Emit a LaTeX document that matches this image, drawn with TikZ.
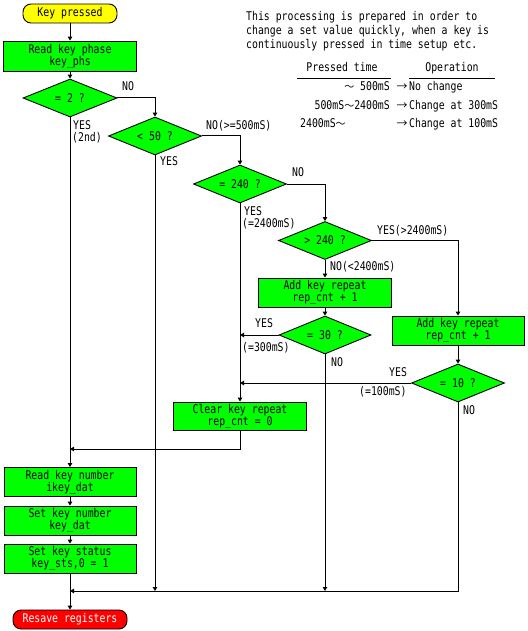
\documentclass[tikz,border=0pt]{standalone}
\usepackage{fontspec}
\setmonofont[FakeStretch=0.82]{DejaVu Sans Mono}
\newfontfamily\cjk{Noto Sans CJK JP}
\newcommand{\wavedash}{{\cjk\fontsize{10}{12}\selectfont ～}}
\newcommand{\rarr}{{\cjk\fontsize{11}{12}\selectfont →}}
\usetikzlibrary{shapes.geometric,arrows.meta}
\definecolor{boxgreen}{RGB}{0,255,0}
\definecolor{keyyellow}{RGB}{255,255,0}
\definecolor{endred}{RGB}{255,0,0}
\begin{document}
\begin{tikzpicture}[x=1pt,y=-1pt,
  font=\ttfamily\fontsize{12}{12}\selectfont,
  proc/.style={draw, fill=boxgreen, line width=0.9pt, minimum width=133pt, minimum height=29pt, inner sep=0pt, align=center},
  dec/.style={draw, fill=boxgreen, diamond, aspect=2.4, line width=0.9pt, minimum width=93pt, minimum height=38pt, inner sep=0pt},
  term/.style={draw, rounded corners=8pt, line width=0.9pt, minimum height=19pt, inner sep=0pt},
  flow/.style={line width=1pt, -{Triangle[length=4pt,width=4.5pt]}},
  conn/.style={line width=1pt},
  lbl/.style={inner sep=0pt, text height=8.5pt, text depth=2.5pt},
  rule/.style={line width=1pt}]
\useasboundingbox (0,0) rectangle (527,631);
% terminals and boxes
\node[term, fill=keyyellow, minimum width=94pt] (kp) at (70,13.5) {Key pressed};
\node[proc, minimum height=30pt] (rkp) at (70,56) {Read key phase\\key\_phs};
\node[dec, minimum width=94pt] (d2) at (70,98) {= 2 ?};
\node[dec] (d50) at (155,136) {< 50 ?};
\node[dec] (d240) at (240,184) {= 240 ?};
\node[dec] (dg240) at (325,240.5) {> 240 ?};
\node[proc] (ak1) at (325,292.5) {Add key repeat\\rep\_cnt + 1};
\node[dec, minimum width=92pt] (d30) at (325,335) {= 30 ?};
\node[proc, minimum width=132pt] (ak2) at (458,330.5) {Add key repeat\\rep\_cnt + 1};
\node[dec] (d10) at (458,383) {= 10 ?};
\node[proc, minimum height=28pt] (clr) at (240,416) {Clear key repeat\\rep\_cnt = 0};
\node[proc, minimum width=132pt] (rkn) at (70,482) {Read key number\\ikey\_dat};
\node[proc, minimum width=132pt] (skn) at (70,520.5) {Set key number\\key\_dat};
\node[proc, minimum width=132pt] (sks) at (70,558.5) {Set key status\\key\_sts,0 = 1};
\node[term, fill=endred, text=white, minimum width=114pt] (res) at (70,619.5) {Resave registers};
% junction coordinates
\coordinate (m1) at (70,449);
\coordinate (m2) at (70,591);
\coordinate (b50) at (155,591);
\coordinate (b30) at (325,591);
\coordinate (j30) at (240,335);
\coordinate (j10) at (240,383);
% connectors
\draw[flow] (kp) -- (rkp);
\draw[flow] (rkp) -- (d2);
\draw[flow] (d2.east) -| (d50.north);
\draw[flow] (d2.south) -- (rkn.north);
\draw[flow] (d50.east) -| (d240.north);
\draw[flow] (d50.south) -- (b50);
\draw[flow] (d240.east) -| (dg240.north);
\draw[flow] (d240.south) -- (clr.north);
\draw[flow] (dg240.east) -| (ak2.north);
\draw[flow] (dg240.south) -- (ak1.north);
\draw[flow] (ak1.south) -- (d30.north);
\draw[flow] (d30.west) -- (j30);
\draw[flow] (d30.south) -- (b30);
\draw[flow] (ak2.south) -- (d10.north);
\draw[flow] (d10.west) -- (j10);
\draw[flow] (d10.south) |- (m2);
\draw[flow] (clr.south) |- (m1);
\draw[flow] (rkn) -- (skn);
\draw[flow] (skn) -- (sks);
\draw[flow] (sks) -- (res);
% branch labels
\node[lbl, anchor=west] (l1) at (122,88) {NO};
\node[lbl, anchor=west] (l2) at (73,127) {YES};
\node[lbl, anchor=west] (l3) at (72,139) {(2nd)};
\node[lbl, anchor=west] (l4) at (160,163) {YES};
\node[lbl, anchor=west] (l5) at (206,127) {NO(>=500mS)};
\node[lbl, anchor=west] (l6) at (292,174) {NO};
\node[lbl, anchor=west] (l7) at (244,212) {YES};
\node[lbl, anchor=west] (l8) at (242,224) {(=2400mS)};
\node[lbl, anchor=west] (l9) at (377,231) {YES(>2400mS)};
\node[lbl, anchor=west] (l10) at (330,267) {NO(<2400mS)};
\node[lbl, anchor=west] (l11) at (255,324) {YES};
\node[lbl, anchor=west] (l12) at (242,348) {(=300mS)};
\node[lbl, anchor=west] (l13) at (331,363) {NO};
\node[lbl, anchor=west] (l14) at (389,373) {YES};
\node[lbl, anchor=west] (l15) at (359,392) {(=100mS)};
\node[lbl, anchor=west] (l16) at (463,411) {NO};
% note
\node[lbl, anchor=west] (n1) at (246,17.5) {This processing is prepared in order to};
\node[lbl, anchor=west] (n2) at (246,32) {change a set value quickly, when a key is};
\node[lbl, anchor=west] (n3) at (246,46) {continuously pressed in time setup etc.};
% table
\node[lbl] (h1) at (342,69) {Pressed time};
\node[lbl] (h2) at (452,69) {Operation};
\coordinate (r1a) at (297,79);
\coordinate (r1b) at (391,79);
\coordinate (r2a) at (409,79);
\coordinate (r2b) at (495,79);
\draw[rule] (r1a) -- (r1b);
\draw[rule] (r2a) -- (r2b);
\node[lbl, anchor=east] (t1a) at (390,88) {\wavedash\ 500mS};
\node[lbl] (t1b) at (402,88) {\rarr};
\node[lbl, anchor=west] (t1c) at (409,88) {No change};
\node[lbl, anchor=east] (t2a) at (390,107) {500mS\wavedash 2400mS};
\node[lbl] (t2b) at (402,107) {\rarr};
\node[lbl, anchor=west] (t2c) at (409,107) {Change at 300mS};
\node[lbl, anchor=west] (t3a) at (300,125) {2400mS\wavedash};
\node[lbl] (t3b) at (402,125) {\rarr};
\node[lbl, anchor=west] (t3c) at (409,125) {Change at 100mS};
\end{tikzpicture}
\end{document}
